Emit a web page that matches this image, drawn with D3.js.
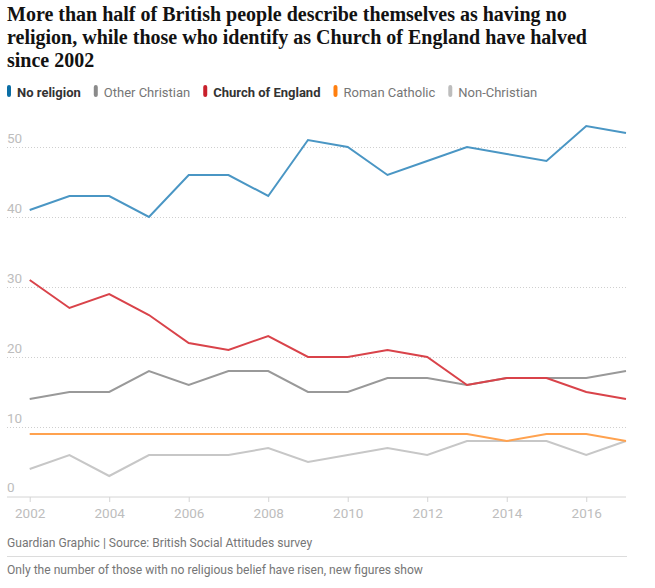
<!DOCTYPE html>
<html>
<head>
<meta charset="utf-8">
<script src="https://cdn.jsdelivr.net/npm/d3@7"></script>
<style>
  body { margin: 0; background: #fff; }
  svg { display: block; }
</style>
</head>
<body>
<div id="chart"></div>
<script>
// --- Data ---
const years = d3.range(2002, 2018);
const seriesNames = ["No religion", "Other Christian", "Church of England", "Roman Catholic", "Non-Christian"];
const noReligion      = [41, 43, 43, 40, 46, 46, 43, 51, 50, 46, 48, 50, 49, 48, 53, 52];
const otherChristian  = [14, 15, 15, 18, 16, 18, 18, 15, 15, 17, 17, 16, 17, 17, 17, 18];
const churchOfEngland = [31, 27, 29, 26, 22, 21, 23, 20, 20, 21, 20, 16, 17, 17, 15, 14];
const romanCatholic   = [9, 9, 9, 9, 9, 9, 9, 9, 9, 9, 9, 9, 8, 9, 9, 8];
const nonChristian    = [4, 6, 3, 6, 6, 6, 7, 5, 6, 7, 6, 8, 8, 8, 6, 8];
const yTicks = [10, 20, 30, 40, 50];
const xTicks = [2002, 2004, 2006, 2008, 2010, 2012, 2014, 2016];

const W = 655, H = 588;
const left = 7, right = 626;

// legend swatch colours and (lighter) line colours
const swatch = ["#0b6ea5", "#8a8a8a", "#c8202b", "#ff7f0f", "#bdbdbd"];
const lineCol = ["#4a96c4", "#999999", "#d9434a", "#ffa24f", "#c7c7c7"];
const bold = [true, false, true, false, false];

const series = [noReligion, otherChristian, churchOfEngland, romanCatholic, nonChristian];
// draw order: light ones underneath
const drawOrder = [4, 3, 1, 2, 0];

const svg = d3.select("#chart").append("svg")
    .attr("width", W)
    .attr("height", H);

// --- Title ---
const titleLines = [
  "More than half of British people describe themselves as having no",
  "religion, while those who identify as Church of England have halved",
  "since 2002"
];
svg.append("g").selectAll("text")
  .data(titleLines)
  .join("text")
    .attr("x", left)
    .attr("y", (d, i) => 21 + i * 23)
    .style("font-family", "'Liberation Serif', serif")
    .style("font-weight", "bold")
    .style("font-size", "20px")
    .style("fill", "#121212")
    .text(d => d);

// --- Legend ---
const legend = svg.append("g");
let lx = left;
seriesNames.forEach((name, i) => {
  legend.append("rect")
    .attr("x", lx).attr("y", 85)
    .attr("width", 4).attr("height", 12)
    .attr("rx", 2)
    .attr("fill", swatch[i]);
  const t = legend.append("text")
    .attr("x", lx + 10).attr("y", 97)
    .style("font-family", "Roboto, sans-serif")
    .style("font-size", "13px")
    .style("font-weight", bold[i] ? "bold" : "normal")
    .style("fill", bold[i] ? "#333" : "#767676")
    .text(name);
  lx += 10 + t.node().getComputedTextLength() + 13;
});

// --- Scales ---
const x = d3.scaleLinear().domain([2002, 2017]).range([29.7, right]);
const y = d3.scaleLinear().domain([0, 55]).range([497, 112]);

// gridlines
svg.append("g").selectAll("line")
  .data(yTicks)
  .join("line")
    .attr("x1", left).attr("x2", right)
    .attr("y1", d => y(d) + 0.5).attr("y2", d => y(d) + 0.5)
    .attr("stroke", "#cfcfcf")
    .attr("stroke-dasharray", "1,2");

// y labels (sit on top of gridlines)
svg.append("g").selectAll("text")
  .data([0].concat(yTicks))
  .join("text")
    .attr("x", left)
    .attr("y", d => y(d) - (d === 0 ? 5.5 : 4))
    .style("font-family", "Roboto, sans-serif")
    .style("font-size", "13.5px")
    .style("fill", "#bdbdbd")
    .text(d => d);

// x axis
const xAxis = svg.append("g")
    .attr("transform", `translate(0,${y(0)})`)
    .call(d3.axisBottom(x).tickValues(xTicks).tickFormat(d3.format("d")).tickSize(5).tickPadding(6));
xAxis.select(".domain").remove();
xAxis.append("line")
    .attr("x1", left).attr("x2", right)
    .attr("stroke", "#d4d4d4");
xAxis.selectAll(".tick line").attr("stroke", "#d4d4d4");
xAxis.selectAll(".tick text")
    .style("font-family", "Roboto, sans-serif")
    .style("font-size", "13.5px")
    .style("fill", "#bdbdbd");

// lines
const line = d3.line()
    .x((d, i) => x(years[i]))
    .y(d => y(d));

svg.append("g").selectAll("path")
  .data(drawOrder)
  .join("path")
    .attr("d", k => line(series[k]))
    .attr("fill", "none")
    .attr("stroke", k => lineCol[k])
    .attr("stroke-width", 2)
    .attr("stroke-linejoin", "miter");

// --- Footer ---
svg.append("text")
    .attr("x", left).attr("y", 547)
    .style("font-family", "Roboto, sans-serif")
    .style("font-size", "12.1px")
    .style("fill", "#767676")
    .text("Guardian Graphic | Source: British Social Attitudes survey");

svg.append("line")
    .attr("x1", left).attr("x2", right + 1)
    .attr("y1", 556.5).attr("y2", 556.5)
    .attr("stroke", "#dcdcdc");

svg.append("text")
    .attr("x", left).attr("y", 574)
    .style("font-family", "Roboto, sans-serif")
    .style("font-size", "12.1px")
    .style("fill", "#767676")
    .text("Only the number of those with no religious belief have risen, new figures show");
</script>
</body>
</html>
